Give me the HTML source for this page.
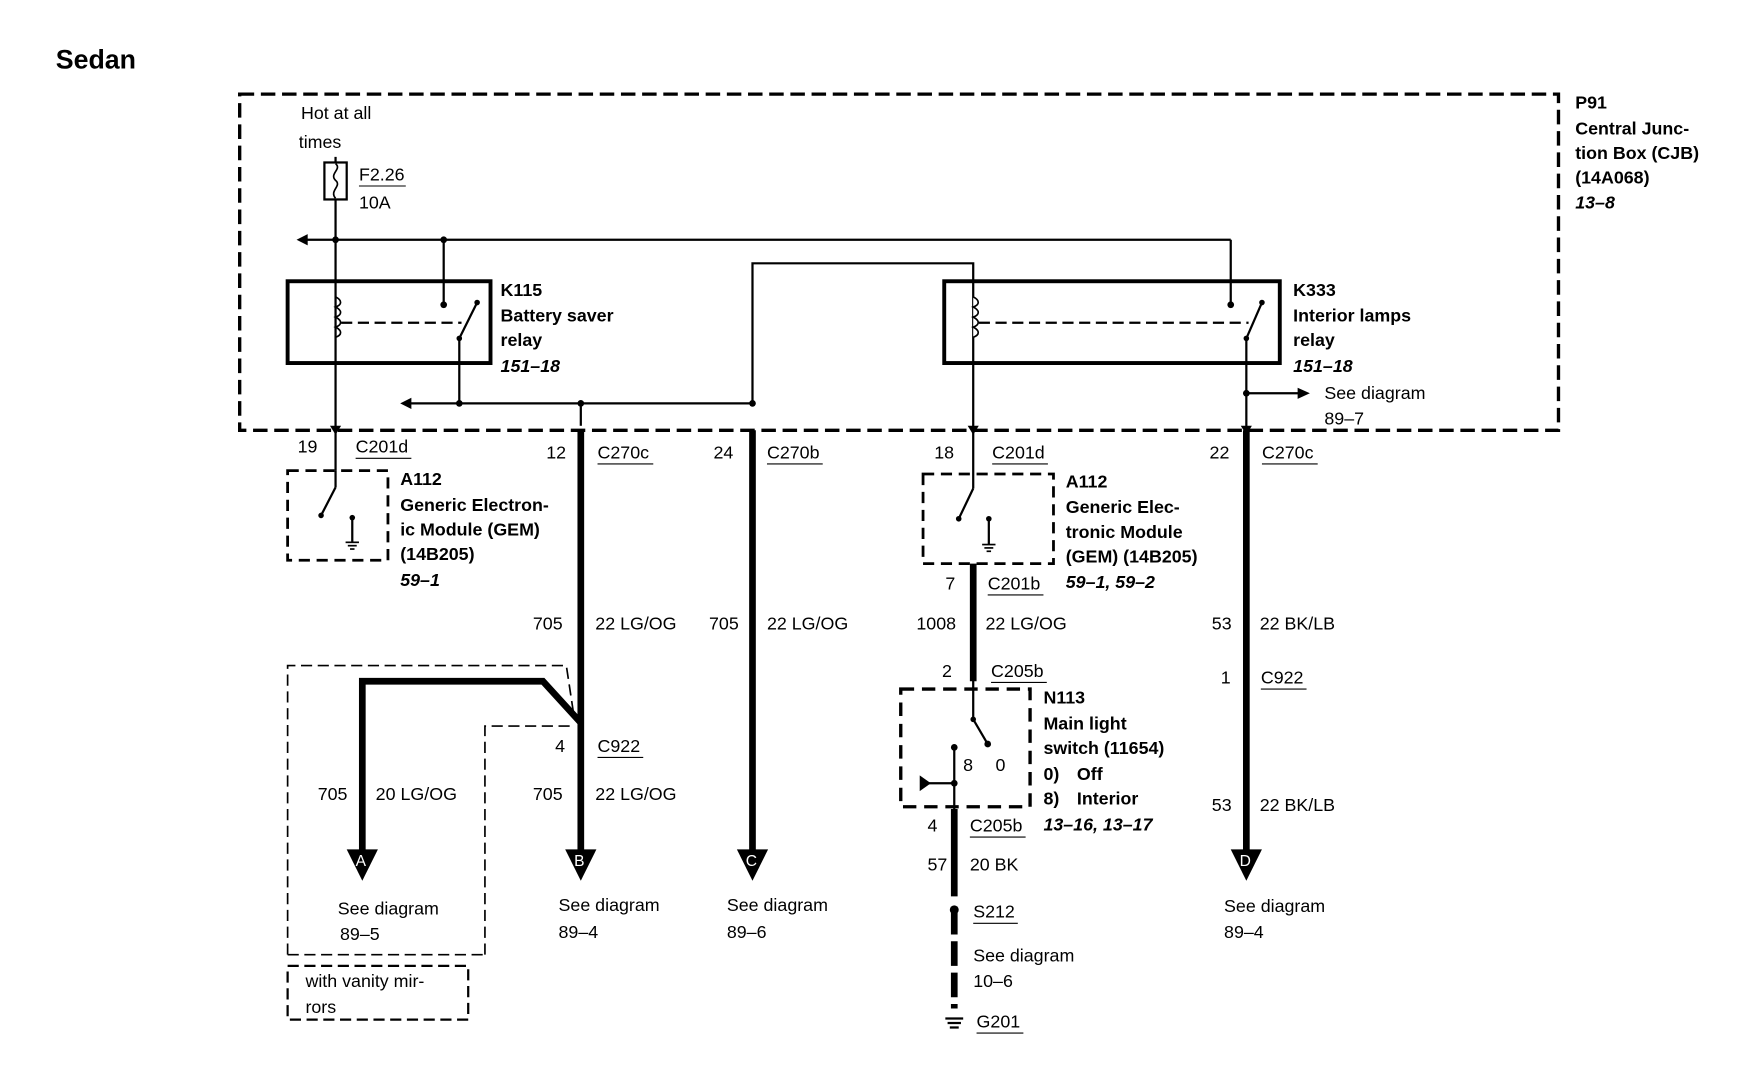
<!DOCTYPE html>
<html><head><style>
html,body{margin:0;padding:0;background:#fff;}
svg{display:block}
text{font-family:"Liberation Sans",sans-serif;font-size:16px;fill:#000}
.b{font-weight:bold}
.i{font-weight:bold;font-style:italic}
</style></head><body>
<svg width="1748" height="1088" viewBox="0 0 1568 971" preserveAspectRatio="none" xmlns="http://www.w3.org/2000/svg">
<text x="50" y="61" class="b" style="font-size:24px">Sedan</text>
<rect x="215" y="84" width="1183" height="300" fill="none" stroke="#000" stroke-width="3" stroke-dasharray="13,6"/>
<text x="1413" y="97" class="b">P91</text>
<text x="1413" y="120" class="b">Central Junc-</text>
<text x="1413" y="142" class="b">tion Box (CJB)</text>
<text x="1413" y="164" class="b">(14A068)</text>
<text x="1413" y="186" class="i">13–8</text>
<text x="270" y="106">Hot at all</text>
<text x="268" y="132">times</text>
<line x1="301" y1="140" x2="301" y2="384" stroke="#000" stroke-width="2"/>
<rect x="291" y="145" width="20" height="33" fill="#fff" stroke="#000" stroke-width="2"/>
<path d="M301,146 c6,5 -6,9 0,15 c6,5 -6,9 0,16" fill="none" stroke="#000" stroke-width="1.5"/>
<text x="322" y="161">F2.26</text><line x1="322" y1="166" x2="364" y2="166" stroke="#000"/>
<text x="322" y="186">10A</text>
<line x1="272" y1="214" x2="1104" y2="214" stroke="#000" stroke-width="2"/>
<path d="M266,214 L276,209 L276,219Z"/>
<circle cx="301" cy="214" r="3"/><circle cx="398" cy="214" r="3"/>
<line x1="398" y1="214" x2="398" y2="272" stroke="#000" stroke-width="2"/>
<line x1="1104" y1="214" x2="1104" y2="272" stroke="#000" stroke-width="2"/>
<rect x="258" y="251" width="182" height="73" fill="none" stroke="#000" stroke-width="3.5"/>
<path d="M301,265 c6,3 6,7 0,9 c6,3 6,7 0,9 c6,3 6,7 0,9 c6,3 6,7 0,9" fill="none" stroke="#000" stroke-width="1.5"/>
<line x1="306" y1="288" x2="414" y2="288" stroke="#000" stroke-width="2" stroke-dasharray="10,5"/>
<circle cx="398" cy="272" r="3"/><line x1="412" y1="302" x2="428" y2="270" stroke="#000" stroke-width="2"/><circle cx="428" cy="270" r="2.5"/><circle cx="412" cy="302" r="2.5"/>
<line x1="412" y1="302" x2="412" y2="360" stroke="#000" stroke-width="2"/>
<text x="449" y="264" class="b">K115</text>
<text x="449" y="287" class="b">Battery saver</text>
<text x="449" y="309" class="b">relay</text>
<text x="449" y="332" class="i">151–18</text>
<line x1="366" y1="360" x2="675" y2="360" stroke="#000" stroke-width="2"/>
<path d="M359,360 L369,355 L369,365Z"/>
<circle cx="412" cy="360" r="3"/><circle cx="521" cy="360" r="3"/><circle cx="675" cy="360" r="3"/>
<polyline points="675,360 675,235 873,235 873,384" fill="none" stroke="#000" stroke-width="2"/>
<rect x="847" y="251" width="301" height="73" fill="none" stroke="#000" stroke-width="3.5"/>
<path d="M873,265 c6,3 6,7 0,9 c6,3 6,7 0,9 c6,3 6,7 0,9 c6,3 6,7 0,9" fill="#fff" stroke="#000" stroke-width="1.5"/>
<line x1="878" y1="288" x2="1120" y2="288" stroke="#000" stroke-width="2" stroke-dasharray="10,5"/>
<circle cx="1104" cy="272" r="3"/><line x1="1118" y1="302" x2="1132" y2="270" stroke="#000" stroke-width="2"/><circle cx="1132" cy="270" r="2.5"/><circle cx="1118" cy="302" r="2.5"/>
<line x1="1118" y1="302" x2="1118" y2="384" stroke="#000" stroke-width="2"/>
<line x1="1118" y1="351" x2="1166" y2="351" stroke="#000" stroke-width="2"/><path d="M1175,351 L1164,346 L1164,356Z"/><circle cx="1118" cy="351" r="3"/>
<text x="1160" y="264" class="b">K333</text>
<text x="1160" y="287" class="b">Interior lamps</text>
<text x="1160" y="309" class="b">relay</text>
<text x="1160" y="332" class="i">151–18</text>
<text x="1188" y="356">See diagram</text>
<text x="1188" y="379">89–7</text>
<text x="267" y="404">19</text><text x="319" y="404">C201d</text><line x1="319" y1="409" x2="369" y2="409" stroke="#000"/>
<line x1="301" y1="384" x2="301" y2="420" stroke="#000" stroke-width="2"/>
<path d="M296,380 L301,388 L306,380Z"/>
<rect x="258" y="420" width="90" height="80" fill="none" stroke="#000" stroke-width="2.5" stroke-dasharray="10,6"/>
<line x1="301" y1="420" x2="301" y2="435" stroke="#000" stroke-width="2"/>
<line x1="301" y1="435" x2="288" y2="460" stroke="#000" stroke-width="2"/><circle cx="288" cy="460" r="2.5"/>
<line x1="316" y1="462" x2="316" y2="484" stroke="#000" stroke-width="2"/><circle cx="316" cy="462" r="2.5"/>
<line x1="310" y1="484" x2="322" y2="484" stroke="#000" stroke-width="1.5"/><line x1="312" y1="487" x2="320" y2="487" stroke="#000" stroke-width="1.5"/><line x1="314" y1="490" x2="318" y2="490" stroke="#000" stroke-width="1.5"/>
<text x="359" y="433" class="b">A112</text>
<text x="359" y="456" class="b">Generic Electron-</text>
<text x="359" y="478" class="b">ic Module (GEM)</text>
<text x="359" y="500" class="b">(14B205)</text>
<text x="359" y="523" class="i">59–1</text>
<text x="490" y="409">12</text><text x="536" y="409">C270c</text><line x1="536" y1="414" x2="586" y2="414" stroke="#000"/>
<line x1="521" y1="362" x2="521" y2="380" stroke="#000" stroke-width="2"/>
<line x1="521" y1="384" x2="521" y2="765" stroke="#000" stroke-width="6"/>
<text x="478" y="562">705</text><text x="534" y="562">22 LG/OG</text>
<text x="498" y="671">4</text><text x="536" y="671">C922</text><line x1="536" y1="676" x2="577" y2="676" stroke="#000"/>
<text x="478" y="714">705</text><text x="534" y="714">22 LG/OG</text>
<path d="M507,758 L535,758 L521,786Z"/><text x="515" y="773" style="fill:#fff;font-size:14px">B</text>
<text x="501" y="813">See diagram</text><text x="501" y="837">89–4</text>
<polyline points="258,852 258,594 508,594 515,640" fill="none" stroke="#000" stroke-width="1.5" stroke-dasharray="10,5"/>
<polyline points="435,852 435,648 515,648" fill="none" stroke="#000" stroke-width="1.5" stroke-dasharray="10,5"/>
<line x1="258" y1="852" x2="435" y2="852" stroke="#000" stroke-width="1.5" stroke-dasharray="10,5"/>
<polyline points="325,765 325,608 487,608 521,645" fill="none" stroke="#000" stroke-width="6"/>
<text x="285" y="714">705</text><text x="337" y="714">20 LG/OG</text>
<path d="M311,758 L339,758 L325,786Z"/><text x="319" y="773" style="fill:#fff;font-size:14px">A</text>
<text x="303" y="816">See diagram</text><text x="305" y="839">89–5</text>
<rect x="258" y="862" width="162" height="48" fill="none" stroke="#000" stroke-width="2" stroke-dasharray="10,5"/>
<text x="274" y="881">with vanity mir-</text><text x="274" y="904">rors</text>
<text x="640" y="409">24</text><text x="688" y="409">C270b</text><line x1="688" y1="414" x2="738" y2="414" stroke="#000"/>
<line x1="675" y1="384" x2="675" y2="765" stroke="#000" stroke-width="6"/>
<text x="636" y="562">705</text><text x="688" y="562">22 LG/OG</text>
<path d="M661,758 L689,758 L675,786Z"/><text x="669" y="773" style="fill:#fff;font-size:14px">C</text>
<text x="652" y="813">See diagram</text><text x="652" y="837">89–6</text>
<text x="838" y="409">18</text><text x="890" y="409">C201d</text><line x1="890" y1="414" x2="940" y2="414" stroke="#000"/>
<path d="M868,380 L873,388 L878,380Z"/>
<line x1="873" y1="384" x2="873" y2="436" stroke="#000" stroke-width="2"/>
<rect x="828" y="423" width="117" height="80" fill="none" stroke="#000" stroke-width="2.5" stroke-dasharray="10,6"/>
<line x1="873" y1="436" x2="860" y2="463" stroke="#000" stroke-width="2"/><circle cx="860" cy="463" r="2.5"/>
<line x1="887" y1="463" x2="887" y2="486" stroke="#000" stroke-width="2"/><circle cx="887" cy="463" r="2.5"/>
<line x1="881" y1="486" x2="893" y2="486" stroke="#000" stroke-width="1.5"/><line x1="883" y1="489" x2="891" y2="489" stroke="#000" stroke-width="1.5"/><line x1="885" y1="492" x2="889" y2="492" stroke="#000" stroke-width="1.5"/>
<text x="956" y="435" class="b">A112</text>
<text x="956" y="458" class="b">Generic Elec-</text>
<text x="956" y="480" class="b">tronic Module</text>
<text x="956" y="502" class="b">(GEM) (14B205)</text>
<text x="956" y="525" class="i">59–1, 59–2</text>
<line x1="873" y1="503" x2="873" y2="608" stroke="#000" stroke-width="6"/>
<text x="848" y="526">7</text><text x="886" y="526">C201b</text><line x1="886" y1="531" x2="936" y2="531" stroke="#000"/>
<text x="822" y="562">1008</text><text x="884" y="562">22 LG/OG</text>
<text x="845" y="604">2</text><text x="889" y="604">C205b</text><line x1="889" y1="609" x2="939" y2="609" stroke="#000"/>
<rect x="808" y="615" width="116" height="105" fill="none" stroke="#000" stroke-width="3" stroke-dasharray="12,7"/>
<line x1="873" y1="605" x2="873" y2="642" stroke="#000" stroke-width="2"/><circle cx="873" cy="642" r="2.5"/>
<line x1="873" y1="642" x2="886" y2="664" stroke="#000" stroke-width="2"/><circle cx="886" cy="664" r="3"/>
<line x1="856" y1="667" x2="856" y2="740" stroke="#000" stroke-width="2"/><circle cx="856" cy="667" r="3"/><circle cx="856" cy="699" r="3"/>
<line x1="828" y1="699" x2="856" y2="699" stroke="#000" stroke-width="2"/><path d="M825,692 L835,699 L825,706Z"/>
<text x="864" y="688">8</text><text x="893" y="688">0</text>
<text x="936" y="628" class="b">N113</text>
<text x="936" y="651" class="b">Main light</text>
<text x="936" y="673" class="b">switch (11654)</text>
<text x="936" y="696" class="b">0)</text><text x="966" y="696" class="b">Off</text>
<text x="936" y="718" class="b">8)</text><text x="966" y="718" class="b">Interior</text>
<text x="936" y="741" class="i">13–16, 13–17</text>
<text x="832" y="742">4</text><text x="870" y="742">C205b</text><line x1="870" y1="747" x2="920" y2="747" stroke="#000"/>
<line x1="856" y1="722" x2="856" y2="800" stroke="#000" stroke-width="6"/>
<line x1="856" y1="812" x2="856" y2="900" stroke="#000" stroke-width="6" stroke-dasharray="22,6"/>
<circle cx="856" cy="812" r="4"/>
<text x="832" y="777">57</text><text x="870" y="777">20 BK</text>
<text x="873" y="819">S212</text><line x1="873" y1="824" x2="913" y2="824" stroke="#000"/>
<text x="873" y="858">See diagram</text><text x="873" y="881">10–6</text>
<line x1="848" y1="909" x2="864" y2="909" stroke="#000" stroke-width="2"/><line x1="850" y1="913" x2="862" y2="913" stroke="#000" stroke-width="2"/><line x1="852" y1="917" x2="860" y2="917" stroke="#000" stroke-width="2"/>
<text x="876" y="917">G201</text><line x1="876" y1="922" x2="918" y2="922" stroke="#000"/>
<text x="1085" y="409">22</text><text x="1132" y="409">C270c</text><line x1="1132" y1="414" x2="1182" y2="414" stroke="#000"/>
<path d="M1113,380 L1118,388 L1123,380Z"/>
<line x1="1118" y1="384" x2="1118" y2="765" stroke="#000" stroke-width="6"/>
<text x="1087" y="562">53</text><text x="1130" y="562">22 BK/LB</text>
<text x="1095" y="610">1</text><text x="1131" y="610">C922</text><line x1="1131" y1="615" x2="1172" y2="615" stroke="#000"/>
<text x="1087" y="724">53</text><text x="1130" y="724">22 BK/LB</text>
<path d="M1104,758 L1132,758 L1118,786Z"/><text x="1112" y="773" style="fill:#fff;font-size:14px">D</text>
<text x="1098" y="814">See diagram</text><text x="1098" y="837">89–4</text>
</svg>
</body></html>
